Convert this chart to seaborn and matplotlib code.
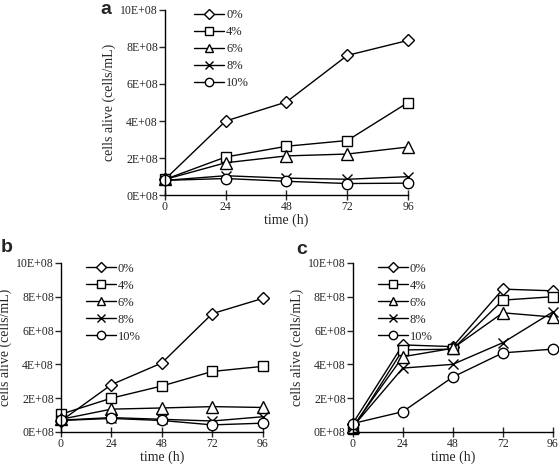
import matplotlib
matplotlib.use("Agg")
import matplotlib.pyplot as plt
import seaborn as sns
import pandas as pd

times = [0, 24, 48, 72, 96]
concs = ["0%", "4%", "6%", "8%", "10%"]
marker_map = {"0%": "D", "4%": "s", "6%": "^", "8%": "x", "10%": "o"}
size_map = {"0%": 6, "4%": 7.5, "6%": 8, "8%": 7.5, "10%": 7.5}

# cells alive (cells/mL), one list per concentration
a_0 = [0.85e8, 4.0e8, 5.03e8, 7.54e8, 8.35e8]
a_4 = [0.85e8, 2.06e8, 2.64e8, 2.95e8, 5.0e8]
a_6 = [0.85e8, 1.75e8, 2.12e8, 2.22e8, 2.6e8]
a_8 = [0.8e8, 1.05e8, 0.92e8, 0.86e8, 1.0e8]
a_10 = [0.8e8, 0.9e8, 0.75e8, 0.63e8, 0.65e8]

b_0 = [0.65e8, 2.8e8, 4.08e8, 7.0e8, 7.9e8]
b_4 = [1.05e8, 2.0e8, 2.72e8, 3.58e8, 3.88e8]
b_6 = [0.75e8, 1.35e8, 1.42e8, 1.5e8, 1.45e8]
b_8 = [0.7e8, 0.85e8, 0.75e8, 0.65e8, 0.9e8]
b_10 = [0.68e8, 0.8e8, 0.68e8, 0.42e8, 0.52e8]

c_0 = [0.5e8, 5.15e8, 5.05e8, 8.45e8, 8.35e8]
c_4 = [0.2e8, 4.85e8, 4.9e8, 7.8e8, 8.0e8]
c_6 = [0.3e8, 4.45e8, 4.95e8, 7.05e8, 6.8e8]
c_8 = [0.3e8, 3.78e8, 4.0e8, 5.28e8, 7.1e8]
c_10 = [0.5e8, 1.2e8, 3.25e8, 4.68e8, 4.9e8]

panels = {
    "a": [a_0, a_4, a_6, a_8, a_10],
    "b": [b_0, b_4, b_6, b_8, b_10],
    "c": [c_0, c_4, c_6, c_8, c_10],
}

sns.set_style("ticks")
plt.rcParams["font.family"] = ["Liberation Serif", "DejaVu Serif"]

fig = plt.figure(figsize=(5.59, 4.67), dpi=100)
positions = {
    "a": [0.295, 0.582, 0.435, 0.397],
    "b": [0.109, 0.075, 0.361, 0.362],
    "c": [0.631, 0.075, 0.358, 0.362],
}


def draw_panel(ax, series):
    for conc, vals in zip(concs, series):
        df = pd.DataFrame({"time": times, "cells": vals})
        sns.lineplot(data=df, x="time", y="cells", ax=ax, color="black",
                     linewidth=1, marker=marker_map[conc],
                     markersize=size_map[conc], markerfacecolor="white",
                     markeredgecolor="black", markeredgewidth=1,
                     label=conc, legend=False, clip_on=False)
    ax.set_xlim(0, 96)
    ax.set_ylim(0, 10e8)
    ax.set_xticks(times)
    ax.set_yticks([0, 2e8, 4e8, 6e8, 8e8, 10e8])
    ax.set_yticklabels(["0E+08", "2E+08", "4E+08", "6E+08", "8E+08", "10E+08"])
    ax.set_xlabel("time (h)", fontsize=10, labelpad=0)
    ax.set_ylabel("cells alive (cells/mL)", fontsize=10, labelpad=3)
    ax.tick_params(axis="x", direction="inout", length=7, width=1, labelsize=8.5, pad=1)
    ax.tick_params(axis="y", direction="out", length=4, width=1, labelsize=8.5, pad=1)
    for s in ["top", "right"]:
        ax.spines[s].set_visible(False)
    for s in ["left", "bottom"]:
        ax.spines[s].set_linewidth(1)
        ax.spines[s].set_color("black")
    ax.legend(loc="upper left", bbox_to_anchor=(0.1, 1.03), frameon=False,
              fontsize=9, handlelength=2.4, handletextpad=0.15,
              labelspacing=0.4, borderaxespad=0, markerscale=0.8)


for name, pos in positions.items():
    ax = fig.add_axes(pos)
    draw_panel(ax, panels[name])

fig.text(0.18, 0.979, "a", fontsize=14, fontweight="bold",
         family=["Liberation Sans", "DejaVu Sans"], va="center")
fig.text(0.002, 0.469, "b", fontsize=14, fontweight="bold",
         family=["Liberation Sans", "DejaVu Sans"], va="center")
fig.text(0.53, 0.465, "c", fontsize=14, fontweight="bold",
         family=["Liberation Sans", "DejaVu Sans"], va="center")

fig.savefig("out.png", dpi=100)
